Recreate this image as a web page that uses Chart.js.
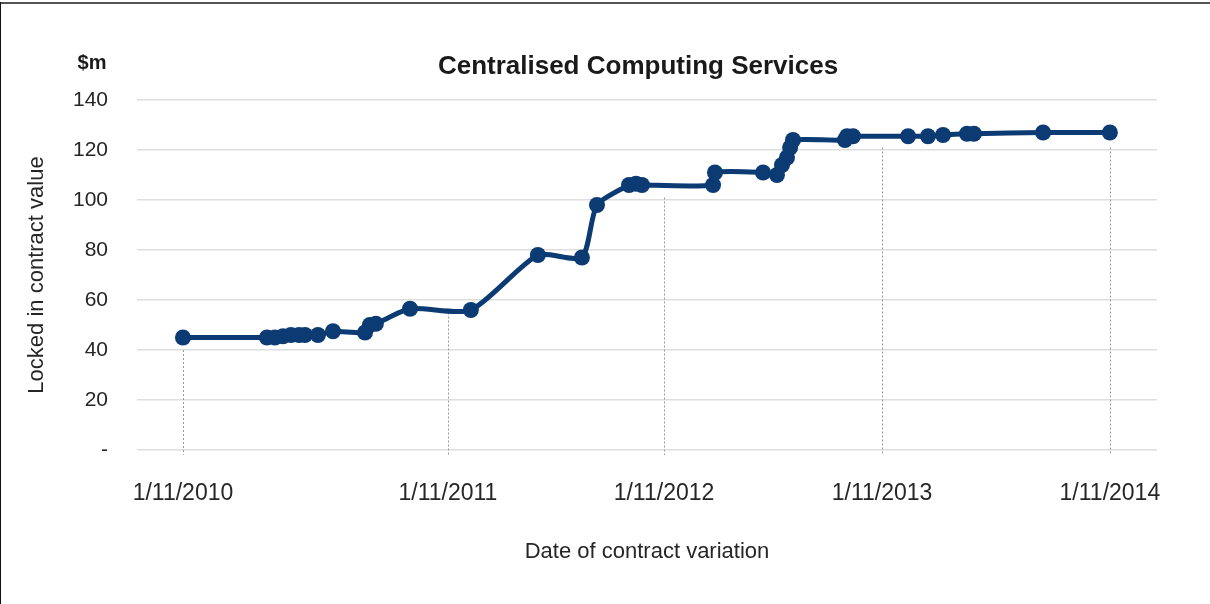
<!DOCTYPE html>
<html>
<head>
<meta charset="utf-8">
<script src="https://cdn.jsdelivr.net/npm/chart.js@4.4.1/dist/chart.umd.min.js"></script>
<style>
    html, body { margin: 0; padding: 0; background: #ffffff; }
    #wrap { position: relative; width: 1210px; height: 604px; }
</style>
</head>
<body>
<div id="wrap"><canvas id="chart" width="1210" height="604"></canvas></div>
<script>
// x is months on the picture's own axis (1/11/2010 = 0)
const xMonths = [0, 4.35, 4.76, 5.18, 5.59, 6.01, 6.32, 6.99, 7.77, 9.43, 9.68, 9.99,
    11.76, 14.91, 18.38, 20.66, 21.44, 23.1, 23.46, 23.77, 27.45, 27.55, 30.04, 30.76,
    31.02, 31.28, 31.44, 31.59, 34.28, 34.39, 34.7, 37.55, 38.58, 39.36, 40.6, 40.96,
    44.54, 48.0];
const lockedValue = [45, 45, 45, 45.5, 46, 46, 46, 46, 47.5, 47, 50, 50.5,
    56.5, 56, 78, 77, 98, 106, 106.5, 106, 106, 111, 111, 110,
    114, 117, 121, 124, 124, 125.5, 125.5, 125.5, 125.5, 126, 126.5, 126.5,
    127, 127];
const xTickValues = [0, 13.72, 24.91, 36.2, 48];
const xTickLabels = ["1/11/2010", "1/11/2011", "1/11/2012", "1/11/2013", "1/11/2014"];
const dropTop = [40, 55, 101, 121, 121];
const yTicks = [0, 20, 40, 60, 80, 100, 120, 140];

const navy = "#0b3b72";
const FONT = "'Liberation Sans', Arial, sans-serif";

const frame = {
    id: "frame",
    beforeDraw(chart) {
        const ctx = chart.ctx;
        ctx.save();
        ctx.fillStyle = "#ffffff";
        ctx.fillRect(0, 0, chart.width, chart.height);
        ctx.fillStyle = "#555555";
        ctx.fillRect(0, 2, chart.width, 2);
        ctx.fillStyle = "#111111";
        ctx.fillRect(0, 2, 1, chart.height - 2);
        ctx.restore();
    },
    beforeDatasetsDraw(chart) {
        const ctx = chart.ctx;
        const xs = chart.scales.x;
        const ys = chart.scales.y;
        ctx.save();
        ctx.strokeStyle = "#9a9a9a";
        ctx.lineWidth = 1;
        ctx.setLineDash([2, 2]);
        xTickValues.forEach((v, i) => {
            const px = Math.round(xs.getPixelForValue(v)) + 0.5;
            ctx.beginPath();
            ctx.moveTo(px, ys.getPixelForValue(dropTop[i]));
            ctx.lineTo(px, ys.getPixelForValue(0) + 5);
            ctx.stroke();
        });
        ctx.restore();
    },
    afterDraw(chart) {
        const ctx = chart.ctx;
        const area = chart.chartArea;
        ctx.save();
        ctx.fillStyle = "#1a1a1a";
        ctx.textBaseline = "middle";
        ctx.textAlign = "center";
        ctx.font = `bold 26px ${FONT}`;
        ctx.fillText("Centralised Computing Services", (area.left + area.right) / 2 - 9, 67);
        ctx.font = `bold 20px ${FONT}`;
        ctx.fillText("$m", 92, 63);
        ctx.restore();
    }
};

new Chart(document.getElementById("chart"), {
    type: "line",
    data: {
        datasets: [{
            data: xMonths.map((x, i) => ({ x: x, y: lockedValue[i] })),
            borderColor: navy,
            backgroundColor: navy,
            borderWidth: 5,
            pointRadius: 8,
            pointBorderWidth: 0,
            pointBackgroundColor: navy,
            tension: 0.22,
            fill: false
        }]
    },
    options: {
        responsive: false,
        animation: false,
        layout: { padding: { top: 100, left: 20, right: 53, bottom: 20 } },
        plugins: {
            legend: { display: false },
            tooltip: { enabled: false }
        },
        scales: {
            x: {
                type: "linear",
                min: -2.38,
                max: 50.44,
                afterBuildTicks: (scale) => {
                    scale.ticks = xTickValues.map((v) => ({ value: v }));
                },
                afterFit: (scale) => { scale.height = 134; },
                grid: { display: false, drawTicks: false },
                border: { display: false },
                ticks: {
                    padding: 30,
                    maxRotation: 0,
                    autoSkip: false,
                    color: "#262626",
                    font: { family: FONT, size: 23 },
                    callback: (v, i) => xTickLabels[i]
                },
                title: {
                    display: true,
                    text: "Date of contract variation",
                    color: "#262626",
                    font: { family: FONT, size: 22 },
                    padding: { top: 0, bottom: 19 }
                }
            },
            y: {
                min: 0,
                max: 140,
                afterBuildTicks: (scale) => {
                    scale.ticks = yTicks.map((v) => ({ value: v }));
                },
                afterFit: (scale) => { scale.width = 117; },
                grid: { color: "#dedede", lineWidth: 1.5, drawTicks: false },
                border: { display: false },
                ticks: {
                    padding: 29,
                    color: "#262626",
                    font: { family: FONT, size: 21 },
                    callback: (v) => (v === 0 ? "-" : v)
                },
                title: {
                    display: true,
                    text: "Locked in contract value",
                    color: "#262626",
                    font: { family: FONT, size: 22 },
                    padding: { top: 4, bottom: 0 }
                }
            }
        }
    },
    plugins: [frame]
});
</script>
</body>
</html>
